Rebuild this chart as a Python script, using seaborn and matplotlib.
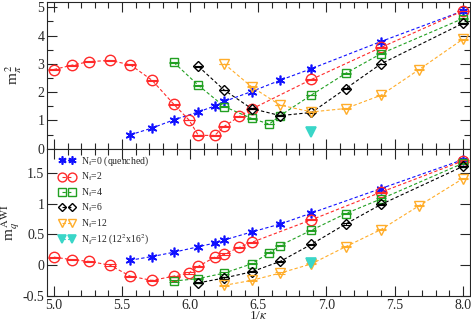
import numpy as np
import pandas as pd
import seaborn as sns
import matplotlib.pyplot as plt
from matplotlib.ticker import MultipleLocator, NullLocator

q_x = [5.56, 5.72, 5.88, 6.06, 6.18, 6.25, 6.45, 6.66, 6.89, 7.40, 8.0]
q_mpi = [0.49, 0.73, 1.02, 1.30, 1.51, 1.67, 2.02, 2.42, 2.83, 3.79, 4.87]
q_mq = [0.08, 0.14, 0.21, 0.30, 0.36, 0.41, 0.54, 0.67, 0.85, 1.25, 1.72]

nf2_x = [5.0, 5.13, 5.26, 5.41, 5.56, 5.72, 5.88, 5.99, 6.06, 6.18, 6.25, 6.36, 6.45, 6.89, 7.40, 8.0]
nf2_mpi = [2.80, 2.95, 3.08, 3.12, 2.97, 2.42, 1.57, 1.02, 0.47, 0.47, 0.79, 1.14, 1.40, 2.45, 3.58, 4.87]
nf2_mq = [0.13, 0.09, 0.06, 0.00, -0.18, -0.25, -0.18, -0.13, -0.02, 0.13, 0.18, 0.29, 0.37, 0.74, 1.19, 1.70]

nf4_x = [5.88, 6.06, 6.25, 6.45, 6.58, 6.66, 6.89, 7.14, 7.40, 8.0]
nf4_mpi = [3.05, 2.24, 1.49, 1.07, 0.87, 1.17, 1.90, 2.66, 3.36, 4.60]
nf4_mq = [-0.26, -0.22, -0.13, 0.02, 0.20, 0.32, 0.57, 0.84, 1.08, 1.66]

nf6_x = [6.06, 6.25, 6.45, 6.66, 6.89, 7.14, 7.40, 8.0]
nf6_mpi = [2.91, 2.07, 1.42, 1.17, 1.28, 2.12, 3.00, 4.43]
nf6_mq = [-0.29, -0.21, -0.11, 0.06, 0.34, 0.67, 0.99, 1.61]

nf12_x = [6.25, 6.45, 6.66, 6.89, 7.14, 7.40, 7.68, 8.0]
nf12_mpi = [3.00, 2.19, 1.54, 1.30, 1.42, 1.89, 2.80, 3.87]
nf12_mq = [-0.33, -0.25, -0.13, 0.02, 0.30, 0.58, 0.97, 1.41]

big_x = [6.89]
big_mpi = [0.58]
big_mq = [0.03]

labels = [r'N$_\mathrm{f}$=0 (quenched)', r'N$_\mathrm{f}$=2', r'N$_\mathrm{f}$=4',
          r'N$_\mathrm{f}$=6', r'N$_\mathrm{f}$=12', r'N$_\mathrm{f}$=12 (12$^2$x16$^2$)']

sns.set_style('ticks')
plt.rcParams['font.family'] = ['Liberation Serif', 'DejaVu Serif']
plt.rcParams['mathtext.fontset'] = 'stix'

# (x, top, bottom, color, marker, size, filled, errbar)
series = [
    (q_x, q_mpi, q_mq, '#1010ff', (6, 2, 0), 7, True, False),
    (nf2_x, nf2_mpi, nf2_mq, '#ff2a2a', 'o', 7.5, False, True),
    (nf4_x, nf4_mpi, nf4_mq, '#22a022', 's', 6, False, True),
    (nf6_x, nf6_mpi, nf6_mq, '#000000', 'D', 5, False, True),
    (nf12_x, nf12_mpi, nf12_mq, '#ffad2a', 'v', 6.5, False, True),
    (big_x, big_mpi, big_mq, '#3ad6c8', 'v', 7.5, True, False),
]

fig, axes = plt.subplots(2, 1, figsize=(4.71, 3.25), dpi=100, sharex=True)
fig.subplots_adjust(left=0.1, right=0.997, top=0.995, bottom=0.09, hspace=0)

for k, ax in enumerate(axes):
    for (x, top, bot, col, mk, ms, filled, eb), lab in zip(series, labels):
        y = top if k == 0 else bot
        df = pd.DataFrame({'x': x, 'y': y})
        sns.lineplot(data=df, x='x', y='y', ax=ax, color=col, marker=mk, markersize=ms,
                     linestyle=(0, (3, 2)), linewidth=0.8,
                     markeredgecolor=col, markeredgewidth=1.0 if not filled else 1.2,
                     markerfacecolor=col if filled else 'none',
                     label=lab if k == 1 else None)
        if eb:
            ax.errorbar(x, y, yerr=0.01, fmt='none', ecolor=col, elinewidth=0.6,
                        capsize=ms * 0.55, capthick=0.8)
    ax.set_xlim(4.95, 8.05)
    ax.xaxis.set_major_locator(MultipleLocator(0.5))
    ax.xaxis.set_minor_locator(MultipleLocator(0.1))
    ax.tick_params(which='both', direction='in', top=True, right=True, labelsize=10, pad=2)
    ax.tick_params(which='major', length=7, width=0.8)
    ax.tick_params(which='minor', length=4, width=0.8)
    for s in ax.spines.values():
        s.set_linewidth(0.8)

ax1, ax2 = axes
ax1.set_ylim(0, 5.2)
ax1.yaxis.set_major_locator(MultipleLocator(1))
ax1.yaxis.set_minor_locator(MultipleLocator(0.5))
ax1.set_ylabel(r'm$_\pi^{\,2}$', fontsize=11)
ax1.yaxis.set_label_coords(-0.055, 0.5)
ax1.set_xlabel('')

ax2.set_ylim(-0.5, 1.9)
ax2.yaxis.set_major_locator(MultipleLocator(0.5))
ax2.yaxis.set_minor_locator(NullLocator())
ax2.set_yticks([-0.5, 0, 0.5, 1, 1.5])
ax2.set_yticklabels(['-0.5', '0', '0.5', '1', '1.5'])
ax2.set_ylabel(r'm$_q^{\,\mathrm{AWI}}$', fontsize=11)
ax2.yaxis.set_label_coords(-0.06, 0.5)
ax2.set_xlabel(r'1/$\kappa$', fontsize=9.5, labelpad=-1)

ax2.legend(loc='upper left', bbox_to_anchor=(0.015, 1.0), frameon=False, fontsize=7,
           numpoints=2, markerscale=0.85, handlelength=1.6, labelspacing=0.3,
           handletextpad=0.6, borderaxespad=0.2)

fig.savefig('out.png', dpi=100)
